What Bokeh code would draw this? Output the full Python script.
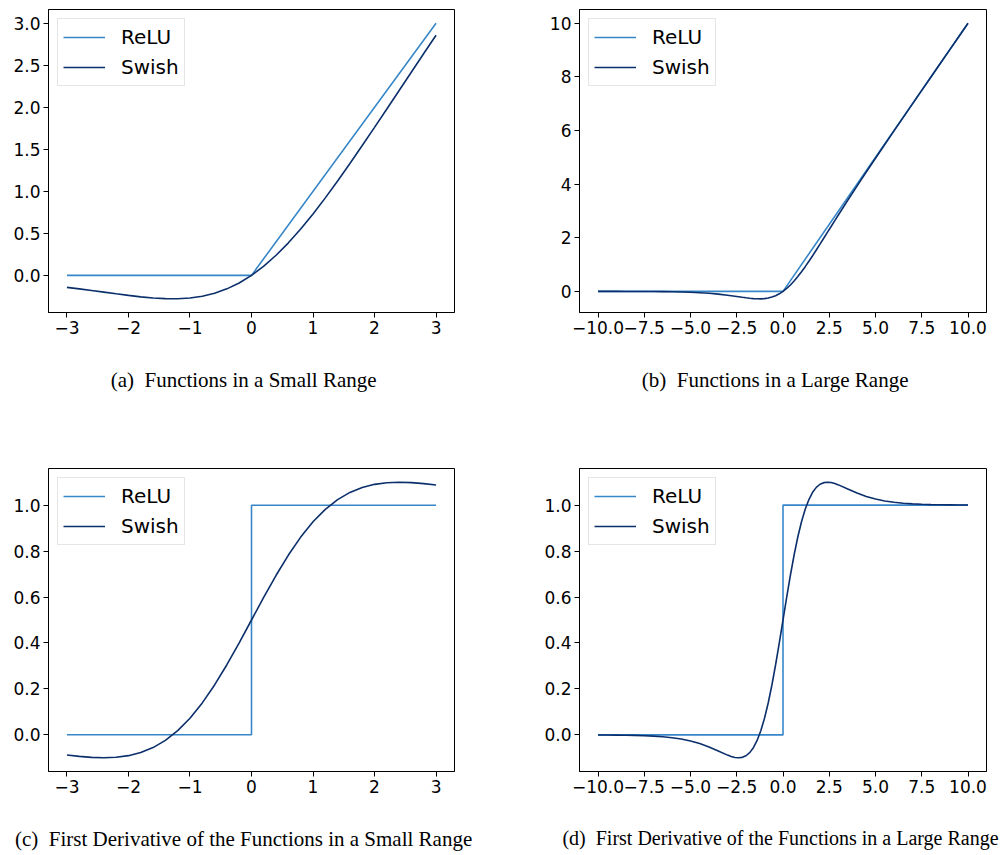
from bokeh.plotting import figure
from bokeh.models import Range1d, FixedTicker
from bokeh.layouts import column, row
from bokeh.embed import file_html
from bokeh.resources import INLINE

# ---------------- data ----------------
x_small = [-3.0, -2.8, -2.6, -2.4, -2.2, -2.0, -1.8, -1.6, -1.4, -1.2, -1.0,
           -0.8, -0.6, -0.4, -0.2, 0.0, 0.2, 0.4, 0.6, 0.8, 1.0,
           1.2, 1.4, 1.6, 1.8, 2.0, 2.2, 2.4, 2.6, 2.8, 3.0]
swish_small = [-0.1423, -0.1605, -0.1798, -0.1996, -0.2195, -0.2384, -0.2553, -0.2688,
               -0.2769, -0.2778, -0.2689, -0.2480, -0.2126, -0.1605, -0.0900, 0.0,
               0.1100, 0.2395, 0.3874, 0.5520, 0.7311, 0.9222, 1.1231, 1.3312,
               1.5447, 1.7616, 1.9806, 2.2004, 2.4202, 2.6395, 2.8577]
dswish_small = [-0.0881, -0.0940, -0.0982, -0.0998, -0.0978, -0.0908, -0.0773, -0.0556,
                -0.0243, 0.0180, 0.0723, 0.1389, 0.2171, 0.3052, 0.4007, 0.5,
                0.5993, 0.6948, 0.7829, 0.8611, 0.9277, 0.9820, 1.0243, 1.0556,
                1.0773, 1.0908, 1.0978, 1.0998, 1.0982, 1.0940, 1.0881]

x_neg_tail = [-10.0, -9.5, -9.0, -8.5, -8.0, -7.5, -7.0, -6.5, -6.0, -5.5, -5.0, -4.5, -4.0, -3.5]
x_pos_tail = [3.5, 4.0, 4.5, 5.0, 5.5, 6.0, 6.5, 7.0, 7.5, 8.0, 8.5, 9.0, 9.5, 10.0]
swish_neg_tail = [-0.0005, -0.0007, -0.0011, -0.0017, -0.0027, -0.0041, -0.0064, -0.0098,
                  -0.0148, -0.0224, -0.0335, -0.0494, -0.0719, -0.1026]
swish_pos_tail = [3.3974, 3.9281, 4.4506, 4.9665, 5.4776, 5.9852, 6.4902, 6.9936,
                  7.4959, 7.9973, 8.4983, 8.9989, 9.4993, 9.9995]
dswish_neg_tail = [-0.0004, -0.0006, -0.0010, -0.0015, -0.0023, -0.0036, -0.0055, -0.0082,
                   -0.0123, -0.0182, -0.0265, -0.0379, -0.0527, -0.0703]
dswish_pos_tail = [1.0703, 1.0527, 1.0379, 1.0265, 1.0182, 1.0123, 1.0082, 1.0055,
                   1.0036, 1.0023, 1.0015, 1.0010, 1.0006, 1.0004]

relu_small_x = [-3.0, 0.0, 3.0]
relu_small_y = [0.0, 0.0, 3.0]
drelu_small_x = [-3.0, 0.0, 0.0, 3.0]
drelu_small_y = [0.0, 0.0, 1.0, 1.0]
relu_large_x = [-10.0, 0.0, 10.0]
relu_large_y = [0.0, 0.0, 10.0]
drelu_large_x = [-10.0, 0.0, 0.0, 10.0]
drelu_large_y = [0.0, 0.0, 1.0, 1.0]

x_large = x_neg_tail + x_small + x_pos_tail
swish_large = swish_neg_tail + swish_small + swish_pos_tail
dswish_large = dswish_neg_tail + dswish_small + dswish_pos_tail

ticks_x_small = [-3, -2, -1, 0, 1, 2, 3]
labels_x_small = ["\u22123", "\u22122", "\u22121", "0", "1", "2", "3"]
ticks_x_large = [-10.0, -7.5, -5.0, -2.5, 0.0, 2.5, 5.0, 7.5, 10.0]
labels_x_large = ["\u221210.0", "\u22127.5", "\u22125.0", "\u22122.5", "0.0", "2.5", "5.0", "7.5", "10.0"]
ticks_y_a = [0.0, 0.5, 1.0, 1.5, 2.0, 2.5, 3.0]
labels_y_a = ["0.0", "0.5", "1.0", "1.5", "2.0", "2.5", "3.0"]
ticks_y_b = [0, 2, 4, 6, 8, 10]
labels_y_b = ["0", "2", "4", "6", "8", "10"]
ticks_y_d = [0.0, 0.2, 0.4, 0.6, 0.8, 1.0]
labels_y_d = ["0.0", "0.2", "0.4", "0.6", "0.8", "1.0"]

captions = ["(a)\u00a0 Functions in a Small Range",
            "(b)\u00a0 Functions in a Large Range",
            "(c)\u00a0 First Derivative of the Functions in a Small Range",
            "(d)\u00a0 First Derivative of the Functions in a Large Range"]

RELU_COLOR = "#3787c8"
SWISH_COLOR = "#0b2f6b"
TICK_FONT = "DejaVu Sans"


def make_panel(width, height, xr, yr, borders, xt, xl, yt, yl, caption, cap_pad, cap_size,
               rx, ry, sx, sy):
    bl, br, bt, bb = borders
    p = figure(width=width, height=height, x_range=Range1d(*xr), y_range=Range1d(*yr),
               output_backend="svg", toolbar_location=None,
               min_border_left=bl, min_border_right=br, min_border_top=bt, min_border_bottom=bb,
               background_fill_color="white", border_fill_color="white")
    p.grid.visible = False
    p.outline_line_color = "black"
    p.outline_line_width = 1
    p.outline_line_alpha = 1

    p.line(rx, ry, color=RELU_COLOR, line_width=1.6, legend_label="ReLU")
    p.line(sx, sy, color=SWISH_COLOR, line_width=1.6, legend_label="Swish")

    p.xaxis.ticker = FixedTicker(ticks=xt)
    p.xaxis.major_label_overrides = {t: l for t, l in zip(xt, xl)}
    p.yaxis.ticker = FixedTicker(ticks=yt)
    p.yaxis.major_label_overrides = {t: l for t, l in zip(yt, yl)}
    for ax in (p.xaxis, p.yaxis):
        ax.axis_line_color = "black"
        ax.major_tick_in = 0
        ax.major_tick_out = 5
        ax.minor_tick_in = 0
        ax.minor_tick_out = 0
        ax.major_tick_line_color = "black"
        ax.major_label_text_font = TICK_FONT
        ax.major_label_text_font_size = "17px"
        ax.major_label_text_color = "black"
        ax.major_label_standoff = 3

    # caption below the panel (trailing no-break spaces nudge the centred text left)
    p.xaxis.axis_label = caption + "\u00a0" * cap_pad
    p.xaxis.axis_label_text_font = "Liberation Serif"
    p.xaxis.axis_label_text_font_size = cap_size
    p.xaxis.axis_label_text_font_style = "normal"
    p.xaxis.axis_label_text_color = "black"
    p.xaxis.axis_label_standoff = 31

    lg = p.legend[0]
    lg.location = "top_left"
    lg.margin = 9
    lg.padding = 5
    lg.spacing = 4
    lg.label_standoff = 16
    lg.glyph_width = 42
    lg.glyph_height = 26
    lg.label_height = 26
    lg.label_text_font = TICK_FONT
    lg.label_text_font_size = "20px"
    lg.label_text_color = "black"
    lg.border_line_color = "#cccccc"
    lg.border_line_width = 1
    lg.background_fill_alpha = 0.8
    return p


pa = make_panel(520, 448, (-3.3, 3.3), (-0.4417, 3.1639), (48, 66, 9, 136),
                ticks_x_small, labels_x_small, ticks_y_a, labels_y_a, captions[0], 3, "21px",
                relu_small_x, relu_small_y, x_small, swish_small)
pb = make_panel(484, 448, (-11.0, 11.0), (-0.7873, 10.5137), (59, 18, 9, 136),
                ticks_x_large, labels_x_large, ticks_y_b, labels_y_b, captions[1], 3, "21px",
                relu_large_x, relu_large_y, x_large, swish_large)
pc = make_panel(520, 407, (-3.3, 3.3), (-0.1598, 1.1598), (48, 66, 20, 84),
                ticks_x_small, labels_x_small, ticks_y_d, labels_y_d, captions[2], 3, "21px",
                drelu_small_x, drelu_small_y, x_small, dswish_small)
pd = make_panel(484, 407, (-11.0, 11.0), (-0.1594, 1.1594), (59, 18, 20, 84),
                ticks_x_large, labels_x_large, ticks_y_d, labels_y_d, captions[3], 1, "20px",
                drelu_large_x, drelu_large_y, x_large, dswish_large)

layout = column(row(pa, pb), row(pc, pd))
open("out.html", "w").write(file_html(layout, INLINE))
